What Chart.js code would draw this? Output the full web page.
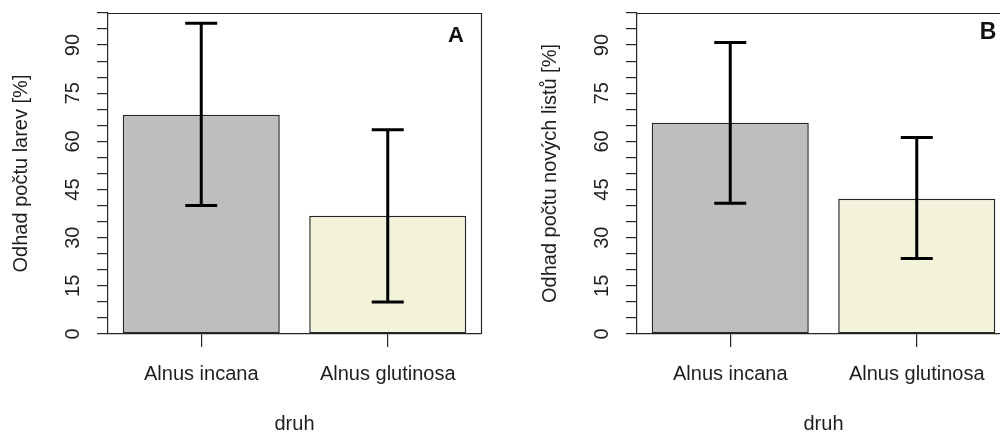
<!DOCTYPE html>
<html>
<head>
<meta charset="utf-8">
<script src="https://cdn.jsdelivr.net/npm/chart.js@4"></script>
<style>
  html, body { margin: 0; padding: 0; background: #fff; overflow: hidden; width: 1000px; height: 434px; }
  .panel { position: absolute; top: 0; width: 529px; height: 434px; }
  #panelA { left: 0; }
  #panelB { left: 529px; }
</style>
</head>
<body>
<div class="panel" id="panelA"><canvas id="chartA" width="529" height="434"></canvas></div>
<div class="panel" id="panelB"><canvas id="chartB" width="529" height="434"></canvas></div>
<script>
// Species on the x axis
const categories = ['Alnus incana', 'Alnus glutinosa'];

// Panel A: estimated number of larvae [%], mean with interval bounds
const larvaeMean = [68.3, 36.8];
const larvaeLow = [40.0, 10.0];
const larvaeHigh = [96.8, 63.6];

// Panel B: estimated number of new leaves [%], mean with interval bounds
const leavesMean = [65.8, 42.1];
const leavesLow = [40.7, 23.5];
const leavesHigh = [90.8, 61.2];

// Labelled y ticks (minor tick marks every 5)
const yTickLabels = [0, 15, 30, 45, 60, 75, 90];

const barColors = ['#bebebe', '#f3f3dc'];
const ink = '#1e1e1e';
const lineInk = '#262626';
const FONT = "'Liberation Sans', Arial, sans-serif";

// Frame round the plotting region (left/bottom come from the axes)
const framePlugin = {
  id: 'frame',
  afterDatasetsDraw(chart) {
    const {ctx, chartArea: a} = chart;
    ctx.save();
    ctx.strokeStyle = lineInk;
    ctx.lineWidth = 1.2;
    ctx.beginPath();
    ctx.moveTo(a.left, a.top + 0.5);
    ctx.lineTo(a.right + 0.5, a.top + 0.5);
    ctx.lineTo(a.right + 0.5, a.bottom);
    ctx.stroke();
    ctx.restore();
  }
};

// Vertical y tick labels, drawn at the scale's own pixel positions
const yLabelPlugin = {
  id: 'yLabels',
  afterDraw(chart) {
    const {ctx, chartArea: a} = chart;
    const y = chart.scales.y;
    ctx.save();
    ctx.fillStyle = ink;
    ctx.font = '20px ' + FONT;
    ctx.textAlign = 'center';
    ctx.textBaseline = 'middle';
    yTickLabels.forEach(v => {
      const py = y.getPixelForValue(v);
      ctx.save();
      ctx.translate(a.left - 35, py);
      ctx.rotate(-Math.PI / 2);
      ctx.fillText(String(v), 0, 0);
      ctx.restore();
    });
    ctx.restore();
  }
};

// Error bars with caps, from the low/high arrays of each chart
const errorBarPlugin = {
  id: 'errorBars',
  afterDatasetsDraw(chart, args, opts) {
    const {ctx} = chart;
    const y = chart.scales.y;
    const meta = chart.getDatasetMeta(0);
    ctx.save();
    ctx.strokeStyle = '#000';
    ctx.lineWidth = 3;
    ctx.lineCap = 'butt';
    meta.data.forEach((bar, i) => {
      const x = bar.x;
      const yHi = y.getPixelForValue(opts.high[i]);
      const yLo = y.getPixelForValue(opts.low[i]);
      ctx.beginPath();
      ctx.moveTo(x, yHi);
      ctx.lineTo(x, yLo);
      ctx.moveTo(x - 16, yHi);
      ctx.lineTo(x + 16, yHi);
      ctx.moveTo(x - 16, yLo);
      ctx.lineTo(x + 16, yLo);
      ctx.stroke();
    });
    ctx.restore();
  }
};

// Panel letter in the upper right corner
const letterPlugin = {
  id: 'panelLetter',
  afterDraw(chart, args, opts) {
    const {ctx, chartArea: a} = chart;
    ctx.save();
    ctx.fillStyle = '#111';
    ctx.font = 'bold ' + opts.size + 'px ' + FONT;
    ctx.textAlign = 'center';
    ctx.textBaseline = 'middle';
    ctx.fillText(opts.text, a.right - opts.dx, opts.y);
    ctx.restore();
  }
};

function makeChart(canvasId, means, low, high, yTitle, letter) {
  return new Chart(document.getElementById(canvasId), {
    type: 'bar',
    data: {
      labels: categories,
      datasets: [{
        data: means,
        backgroundColor: barColors,
        borderColor: lineInk,
        borderWidth: 1.5,
        borderSkipped: false,
        categoryPercentage: 1.0,
        barPercentage: 0.842
      }]
    },
    options: {
      responsive: false,
      animation: false,
      devicePixelRatio: 1,
      layout: { padding: { top: 13, right: 48, left: 0, bottom: 0 } },
      plugins: {
        legend: { display: false },
        tooltip: { enabled: false },
        errorBars: { low: low, high: high },
        panelLetter: letter
      },
      scales: {
        x: {
          type: 'category',
          offset: true,
          afterFit(scale) { scale.height = 100; },
          grid: {
            display: true, offset: false, drawOnChartArea: false, drawTicks: true,
            tickLength: 13, color: lineInk, lineWidth: 1.2
          },
          border: { display: true, color: lineInk, width: 1.2 },
          ticks: { color: ink, font: { family: FONT, size: 20 }, padding: 15, maxRotation: 0, autoSkip: false },
          title: {
            display: true, text: 'druh', color: ink,
            font: { family: FONT, size: 20 }, padding: { top: 0, bottom: -2 }
          }
        },
        y: {
          min: 0,
          max: 100,
          afterFit(scale) { scale.width = 108; },
          ticks: { stepSize: 5, display: false },
          grid: {
            display: true, drawOnChartArea: false, drawTicks: true,
            tickLength: 11, color: lineInk, lineWidth: 1.2
          },
          border: { display: true, color: lineInk, width: 1.2 },
          title: {
            display: true, text: yTitle, color: ink,
            font: { family: FONT, size: 20 }, padding: { top: 9.5, bottom: 0 }
          }
        }
      }
    },
    plugins: [framePlugin, errorBarPlugin, yLabelPlugin, letterPlugin]
  });
}

makeChart('chartA', larvaeMean, larvaeLow, larvaeHigh, 'Odhad počtu larev [%]',
  { text: 'A', size: 22, dx: 25, y: 36 });
makeChart('chartB', leavesMean, leavesLow, leavesHigh, 'Odhad počtu nových listů [%]',
  { text: 'B', size: 23, dx: 22, y: 33 });
</script>
</body>
</html>
